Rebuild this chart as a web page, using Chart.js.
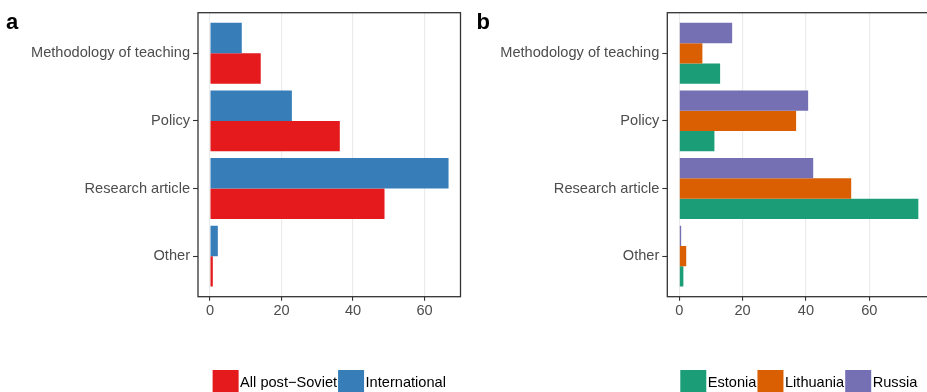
<!DOCTYPE html>
<html>
<head>
<meta charset="utf-8">
<script src="https://cdn.jsdelivr.net/npm/chart.js@4.4.1/dist/chart.umd.min.js"></script>
<style>
  html, body { margin: 0; padding: 0; background: #ffffff; overflow: hidden; }
  #wrap { position: relative; width: 927px; height: 392px; overflow: hidden; background: #ffffff; }
  canvas { position: absolute; top: 0; }
  #panelA { left: 0; }
  #panelB { left: 465px; }
</style>
</head>
<body>
<div id="wrap">
  <canvas id="panelA" width="465" height="392"></canvas>
  <canvas id="panelB" width="470" height="392"></canvas>
</div>
<script>
// Publication types (share of publications, %)
const categories = ['Methodology of teaching', 'Policy', 'Research article', 'Other'];

// Panel a: post-Soviet vs international literature
const postSoviet    = [14.2, 36.3, 48.8, 0.8];
const international = [8.9, 22.9, 66.7, 2.2];

// Panel b: by country
const estonia   = [12.9, 11.1, 75.5, 1.3];
const lithuania = [7.3, 36.9, 54.3, 2.2];
const russia    = [16.7, 40.7, 42.3, 0.6];

const xTicks = [0, 20, 40, 60];

const FONT = '"Liberation Sans", Arial, Helvetica, sans-serif';
const TICK_FONT = { family: FONT, size: 14.6 };

function toPoints(values) {
  return values.map((v, i) => ({ x: v, y: i }));
}

// Full panel border, drawn over bars and grid
const panelBorder = {
  id: 'panelBorder',
  afterDatasetsDraw(chart) {
    const { ctx, chartArea: a } = chart;
    ctx.save();
    ctx.strokeStyle = '#333333';
    ctx.lineWidth = 1.3;
    ctx.strokeRect(a.left, a.top, a.right - a.left, a.bottom - a.top);
    ctx.restore();
  }
};

// Panel tag ("a", "b") and the legend row under the panel
const panelExtras = {
  id: 'panelExtras',
  afterDraw(chart, args, opts) {
    const { ctx, chartArea: a } = chart;
    ctx.save();
    ctx.fillStyle = '#000000';
    ctx.font = 'bold 22px ' + FONT;
    ctx.textBaseline = 'alphabetic';
    ctx.textAlign = 'left';
    ctx.fillText(opts.tag, opts.tagX, 28.5);

    // legend
    ctx.font = '14.6px ' + FONT;
    const key = 26, gapText = 1.5, gapItem = 1;
    const items = opts.legend;
    let total = 0;
    items.forEach((it, i) => {
      total += key + gapText + ctx.measureText(it.text).width + (i < items.length - 1 ? gapItem : 0);
    });
    let x = (a.left + a.right) / 2 - total / 2;
    const top = 370, mid = 383;
    items.forEach(it => {
      ctx.fillStyle = it.color;
      ctx.fillRect(x, top, key, key);
      x += key + gapText;
      ctx.fillStyle = '#000000';
      ctx.textBaseline = 'middle';
      ctx.fillText(it.text, x, mid);
      x += ctx.measureText(it.text).width + gapItem;
    });
    ctx.restore();
  }
};

function makePanel(canvas, cfg) {
  return new Chart(canvas, {
    type: 'bar',
    data: {
      datasets: cfg.series.map(s => ({
        label: s.label,
        data: toPoints(s.values),
        backgroundColor: s.color,
        borderWidth: 0,
        categoryPercentage: 0.9,
        barPercentage: 1.0
      }))
    },
    options: {
      indexAxis: 'y',
      responsive: false,
      animation: false,
      devicePixelRatio: 1,
      layout: { padding: { top: 12.7, right: cfg.padRight, left: 0, bottom: 0 } },
      plugins: {
        legend: { display: false },
        tooltip: { enabled: false },
        panelExtras: { tag: cfg.tag, tagX: cfg.tagX, legend: cfg.legend }
      },
      scales: {
        x: {
          type: 'linear',
          min: cfg.xMin,
          max: cfg.xMax,
          offset: false,
          afterBuildTicks: s => { s.ticks = xTicks.map(v => ({ value: v })); },
          afterFit: s => { s.height = 392 - 296.7; },
          ticks: { font: TICK_FONT, color: '#4D4D4D', padding: 2, maxRotation: 0, callback: v => String(v) },
          grid: { offset: false, color: '#EBEBEB', lineWidth: 1.1, tickColor: '#333333', tickLength: 4, tickWidth: 1.1 },
          border: { display: false }
        },
        y: {
          type: 'linear',
          reverse: true,
          min: -0.6,
          max: 3.6,
          offset: false,
          afterBuildTicks: s => { s.ticks = categories.map((c, i) => ({ value: i })); },
          afterFit: s => { s.width = cfg.yWidth; },
          ticks: { font: TICK_FONT, color: '#4D4D4D', padding: 3, autoSkip: false, callback: v => categories[v] },
          grid: { offset: false, drawOnChartArea: false, tickColor: '#333333', tickLength: 5, tickWidth: 1.1 },
          border: { display: false }
        }
      }
    },
    plugins: [panelBorder, panelExtras]
  });
}

makePanel(document.getElementById('panelA'), {
  tag: 'a', tagX: 6,
  yWidth: 198, padRight: 4.5,
  xMin: -3.34, xMax: 70.04,
  series: [
    { label: 'International', values: international, color: '#377EB8' },
    { label: 'All post\u2212Soviet', values: postSoviet, color: '#E41A1C' }
  ],
  legend: [
    { text: 'All post\u2212Soviet', color: '#E41A1C' },
    { text: 'International', color: '#377EB8' }
  ]
});

makePanel(document.getElementById('panelB'), {
  tag: 'b', tagX: 11.5,
  yWidth: 202.3, padRight: 4.7,
  xMin: -3.78, xMax: 79.28,
  series: [
    { label: 'Russia', values: russia, color: '#7570B3' },
    { label: 'Lithuania', values: lithuania, color: '#D95F02' },
    { label: 'Estonia', values: estonia, color: '#1B9E77' }
  ],
  legend: [
    { text: 'Estonia', color: '#1B9E77' },
    { text: 'Lithuania', color: '#D95F02' },
    { text: 'Russia', color: '#7570B3' }
  ]
});
</script>
</body>
</html>
